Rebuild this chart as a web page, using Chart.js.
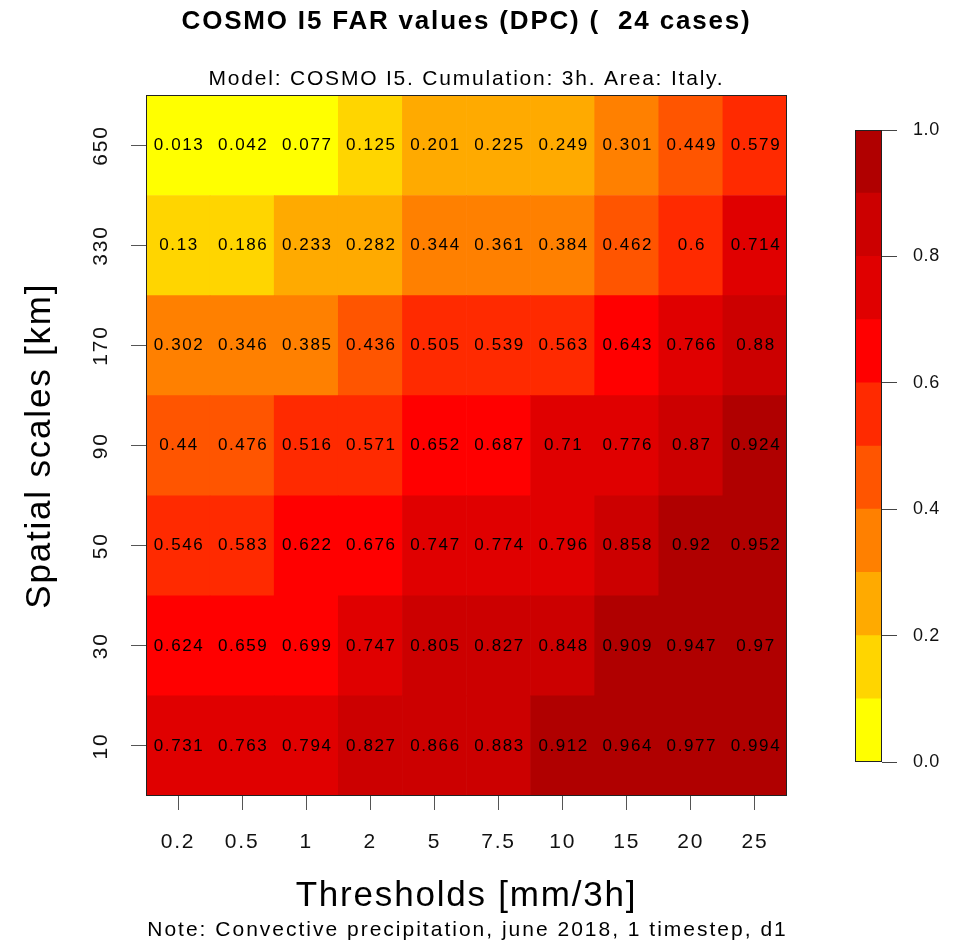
<!DOCTYPE html>
<html>
<head>
<meta charset="utf-8">
<script src="https://cdn.jsdelivr.net/npm/chart.js@4.4.0/dist/chart.umd.min.js"></script>
<style>
html, body { margin: 0; padding: 0; background: #ffffff; }
#wrap { position: relative; width: 961px; height: 944px; }
#wrap canvas { position: absolute; left: 0; top: 0; }
</style>
</head>
<body>
<div id="wrap">
  <canvas id="main" width="961" height="944"></canvas>
  <canvas id="cbar" width="961" height="944"></canvas>
</div>
<script>
// ---------- data ----------
const thresholds = ['0.2', '0.5', '1', '2', '5', '7.5', '10', '15', '20', '25'];
const spatialScales = ['10', '30', '50', '90', '170', '330', '650'];

const far10  = [0.731, 0.763, 0.794, 0.827, 0.866, 0.883, 0.912, 0.964, 0.977, 0.994];
const far30  = [0.624, 0.659, 0.699, 0.747, 0.805, 0.827, 0.848, 0.909, 0.947, 0.97];
const far50  = [0.546, 0.583, 0.622, 0.676, 0.747, 0.774, 0.796, 0.858, 0.92, 0.952];
const far90  = [0.44, 0.476, 0.516, 0.571, 0.652, 0.687, 0.71, 0.776, 0.87, 0.924];
const far170 = [0.302, 0.346, 0.385, 0.436, 0.505, 0.539, 0.563, 0.643, 0.766, 0.88];
const far330 = [0.13, 0.186, 0.233, 0.282, 0.344, 0.361, 0.384, 0.462, 0.6, 0.714];
const far650 = [0.013, 0.042, 0.077, 0.125, 0.201, 0.225, 0.249, 0.301, 0.449, 0.579];

const binEdges  = [0, 0.1, 0.2, 0.3, 0.4, 0.5, 0.6, 0.7, 0.8, 0.9, 1.0];
const binColors = ['#FFFF00', '#FFD500', '#FFAA00', '#FF8000', '#FF5500',
                   '#FF2A00', '#FF0000', '#E00000', '#CC0000', '#B00000'];

const titleText    = 'COSMO I5 FAR values (DPC) (  24 cases)';
const subtitleText = 'Model: COSMO I5. Cumulation: 3h. Area: Italy.';
const xTitleText   = 'Thresholds [mm/3h]';
const yTitleText   = 'Spatial scales [km]';
const noteText     = 'Note: Convective precipitation, june 2018, 1 timestep, d1';

// ---------- helpers ----------
const FONT = "'Liberation Sans', Arial, Helvetica, sans-serif";
const farRows = [far10, far30, far50, far90, far170, far330, far650];

function colorFor(v) {
  // R image(): intervals closed on the right, lowest included
  for (let i = 0; i < binColors.length; i++) {
    if (v <= binEdges[i + 1]) return binColors[i];
  }
  return binColors[binColors.length - 1];
}
function setSpacing(ctx, px) {
  if ('letterSpacing' in ctx) ctx.letterSpacing = px + 'px';
}

// ---------- main heat map ----------
const mainDatasets = farRows.map((row, r) => ({
  label: spatialScales[r] + ' km',
  data: row.map(() => [r - 0.5, r + 0.5]),
  far: row,
  backgroundColor: row.map(colorFor),
  borderWidth: 0,
  grouped: false,
  barPercentage: 1,
  categoryPercentage: 1
}));

const mainDeco = {
  id: 'mainDeco',
  beforeDraw(chart) {
    setSpacing(chart.ctx, 1.8);
  },
  afterDatasetsDraw(chart) {
    const ctx = chart.ctx;
    ctx.save();
    setSpacing(ctx, 1.6);
    ctx.font = '17px ' + FONT;
    ctx.fillStyle = '#000';
    ctx.textAlign = 'center';
    ctx.textBaseline = 'middle';
    chart.data.datasets.forEach((ds, di) => {
      const meta = chart.getDatasetMeta(di);
      meta.data.forEach((el, i) => {
        ctx.fillText(String(ds.far[i]), el.x + 1, (el.y + el.base) / 2);
      });
    });
    ctx.restore();
    setSpacing(ctx, 0.6);
  },
  afterDraw(chart) {
    const ctx = chart.ctx;
    const a = chart.chartArea;
    ctx.save();
    ctx.strokeStyle = '#222';
    ctx.lineWidth = 1;
    ctx.strokeRect(Math.round(a.left) + 0.5, Math.round(a.top) + 0.5,
                   Math.round(a.right - a.left) - 1, Math.round(a.bottom - a.top) - 1);
    setSpacing(ctx, 2);
    ctx.font = '21px ' + FONT;
    ctx.fillStyle = '#000';
    ctx.textAlign = 'center';
    ctx.textBaseline = 'middle';
    ctx.fillText(noteText, (a.left + a.right) / 2 + 1, chart.scales.x.bottom - 14);
    ctx.restore();
  }
};

new Chart(document.getElementById('main'), {
  type: 'bar',
  data: { labels: thresholds, datasets: mainDatasets },
  options: {
    responsive: false,
    animation: false,
    devicePixelRatio: 1,
    layout: { padding: { left: 0, right: 174, top: 0, bottom: 0 } },
    plugins: {
      legend: { display: false },
      tooltip: { enabled: false },
      title: {
        display: true, text: titleText, fullSize: false, color: '#000',
        font: { family: FONT, size: 26, weight: 'bold', lineHeight: 1.2 },
        padding: { top: 6, bottom: 0 }
      },
      subtitle: {
        display: true, text: subtitleText, fullSize: false, color: '#000',
        font: { family: FONT, size: 21, weight: 'normal', lineHeight: 1.2 },
        padding: { top: 29, bottom: 4 }
      }
    },
    scales: {
      x: {
        type: 'category',
        offset: true,
        z: 1,
        grid: { offset: false, drawOnChartArea: false, drawTicks: true, tickLength: 14, color: '#555', lineWidth: 1 },
        border: { display: false },
        ticks: { color: '#111', font: { family: FONT, size: 21 }, padding: 20, maxRotation: 0, minRotation: 0, autoSkip: false },
        title: { display: true, text: xTitleText, color: '#000', font: { family: FONT, size: 35, lineHeight: 1.2 }, padding: { top: 0, bottom: 27 } },
        afterFit(s) { s.height = 148; }
      },
      y: {
        type: 'linear',
        min: -0.5,
        max: 6.5,
        z: 1,
        afterBuildTicks(s) { s.ticks = spatialScales.map((_, i) => ({ value: i })); },
        grid: { drawOnChartArea: false, drawTicks: true, tickLength: 15, color: '#555', lineWidth: 1 },
        border: { display: false },
        ticks: {
          color: '#111', font: { family: FONT, size: 21 },
          callback: (v) => spatialScales[v],
          minRotation: 90, maxRotation: 90, crossAlign: 'center', padding: 12
        },
        title: { display: true, text: yTitleText, color: '#000', font: { family: FONT, size: 35, lineHeight: 1.2 }, padding: { top: 19, bottom: 0 } },
        afterFit(s) { s.width = 146; }
      }
    }
  },
  plugins: [mainDeco]
});

// ---------- colour bar ----------
const cbarDeco = {
  id: 'cbarDeco',
  beforeDraw(chart) { setSpacing(chart.ctx, 0.6); },
  afterDraw(chart) {
    const ctx = chart.ctx;
    const a = chart.chartArea;
    ctx.save();
    ctx.strokeStyle = '#222';
    ctx.lineWidth = 1;
    ctx.strokeRect(Math.round(a.left) + 0.5, Math.round(a.top) + 0.5,
                   Math.round(a.right - a.left) - 1, Math.round(a.bottom - a.top) - 1);
    ctx.restore();
  }
};

new Chart(document.getElementById('cbar'), {
  type: 'bar',
  data: {
    labels: [''],
    datasets: binColors.map((c, i) => ({
      data: [[binEdges[i], binEdges[i + 1]]],
      backgroundColor: c,
      borderWidth: 0,
      grouped: false,
      barPercentage: 1,
      categoryPercentage: 1
    }))
  },
  options: {
    responsive: false,
    animation: false,
    devicePixelRatio: 1,
    layout: { padding: { left: 855, top: 130, bottom: 182, right: 0 } },
    plugins: { legend: { display: false }, tooltip: { enabled: false } },
    scales: {
      x: { display: false, offset: true },
      y: {
        position: 'right',
        min: 0, max: 1,
        grid: { drawOnChartArea: false, drawTicks: true, tickLength: 15, color: '#444', lineWidth: 1 },
        border: { display: false },
        ticks: { stepSize: 0.2, callback: (v) => Number(v).toFixed(1), color: '#111', font: { family: FONT, size: 18 }, padding: 16 },
        afterFit(s) { s.width = 79; }
      }
    }
  },
  plugins: [cbarDeco]
});
</script>
</body>
</html>
